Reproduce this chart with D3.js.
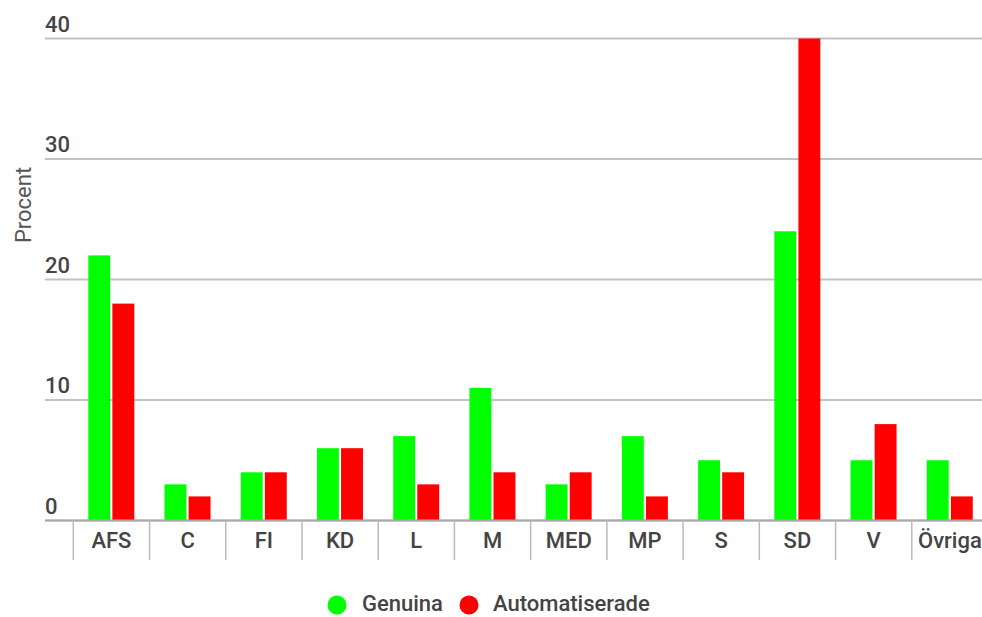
<!DOCTYPE html>
<html>
<head>
<meta charset="utf-8">
<script src="https://cdn.jsdelivr.net/npm/d3@7"></script>
<style>
  html, body { margin: 0; padding: 0; background: #fff; }
  svg { display: block; font-family: Roboto, "Noto Sans", sans-serif; }
</style>
</head>
<body>
<svg id="chart" width="982" height="617"></svg>
<script>
// Party categories and percentage shares per account type
const categories = ["AFS", "C", "FI", "KD", "L", "M", "MED", "MP", "S", "SD", "V", "Övriga"];
const genuina = [22, 3, 4, 6, 7, 11, 3, 7, 5, 24, 5, 5];
const automatiserade = [18, 2, 4, 6, 3, 4, 4, 2, 4, 40, 8, 2];
const seriesNames = ["Genuina", "Automatiserade"];
const seriesColors = ["#00ff00", "#ff0000"];
const yTicks = [0, 10, 20, 30, 40];

const svg = d3.select("#chart");
const textColor = "#444";
const gridColor = "#c2c2c2";

const x = d3.scaleBand().domain(categories).range([73.3, 988]);
// Pair of bars centred in each band, small gap between them
const inner = d3.scaleBand().domain(seriesNames).range([15, 61]).paddingInner(0.09);
const y = d3.scaleLinear().domain([0, 40]).range([520.5, 38.5]);

// Horizontal grid lines with labels sitting above them
const grid = svg.append("g");
grid.selectAll("line").data(yTicks).join("line")
  .attr("x1", 45).attr("x2", 982)
  .attr("y1", d => y(d)).attr("y2", d => y(d))
  .attr("stroke", gridColor).attr("stroke-width", 2);
grid.selectAll("text").data(yTicks).join("text")
  .attr("x", 45).attr("y", d => y(d) - 7)
  .attr("fill", textColor).attr("font-size", 22).attr("font-weight", 500)
  .text(d => d);

// Bars
const groups = svg.append("g").selectAll("g").data(categories).join("g")
  .attr("transform", d => `translate(${x(d)},0)`);
groups.selectAll("rect")
  .data((d, i) => [genuina[i], automatiserade[i]].map((v, k) => ({ s: seriesNames[k], v, c: seriesColors[k] })))
  .join("rect")
  .attr("x", d => inner(d.s))
  .attr("width", inner.bandwidth())
  .attr("y", d => y(d.v))
  .attr("height", d => y(0) - y(d.v))
  .attr("fill", d => d.c);

// Category axis: separators between bands and labels
const axisG = svg.append("g");
axisG.append("line")
  .attr("x1", 45).attr("x2", 982).attr("y1", y(0)).attr("y2", y(0))
  .attr("stroke", "#aaa").attr("stroke-width", 2);
const bounds = categories.map(c => x(c));
axisG.selectAll("line.sep").data(bounds).join("line").attr("class", "sep")
  .attr("x1", d => d).attr("x2", d => d)
  .attr("y1", y(0)).attr("y2", 560)
  .attr("stroke", "#bbb").attr("stroke-width", 1.5);
axisG.selectAll("text").data(categories).join("text")
  .attr("x", d => x(d) + x.bandwidth() / 2)
  .attr("y", 548)
  .attr("text-anchor", "middle")
  .attr("fill", textColor).attr("font-size", 22).attr("font-weight", 500)
  .text(d => d);

// Y axis title
svg.append("text")
  .attr("transform", "translate(31,205) rotate(-90)")
  .attr("text-anchor", "middle")
  .attr("fill", "#555").attr("font-size", 22)
  .text("Procent");

// Legend
const legendItems = [
  { name: seriesNames[0], color: seriesColors[0], cx: 337, tx: 362 },
  { name: seriesNames[1], color: seriesColors[1], cx: 469, tx: 493 }
];
const legend = svg.append("g").selectAll("g").data(legendItems).join("g");
legend.append("circle")
  .attr("cx", d => d.cx).attr("cy", 605).attr("r", 9.5)
  .attr("fill", d => d.color);
legend.append("text")
  .attr("x", d => d.tx).attr("y", 611)
  .attr("fill", textColor).attr("font-size", 22).attr("font-weight", 500)
  .text(d => d.name);
</script>
</body>
</html>
